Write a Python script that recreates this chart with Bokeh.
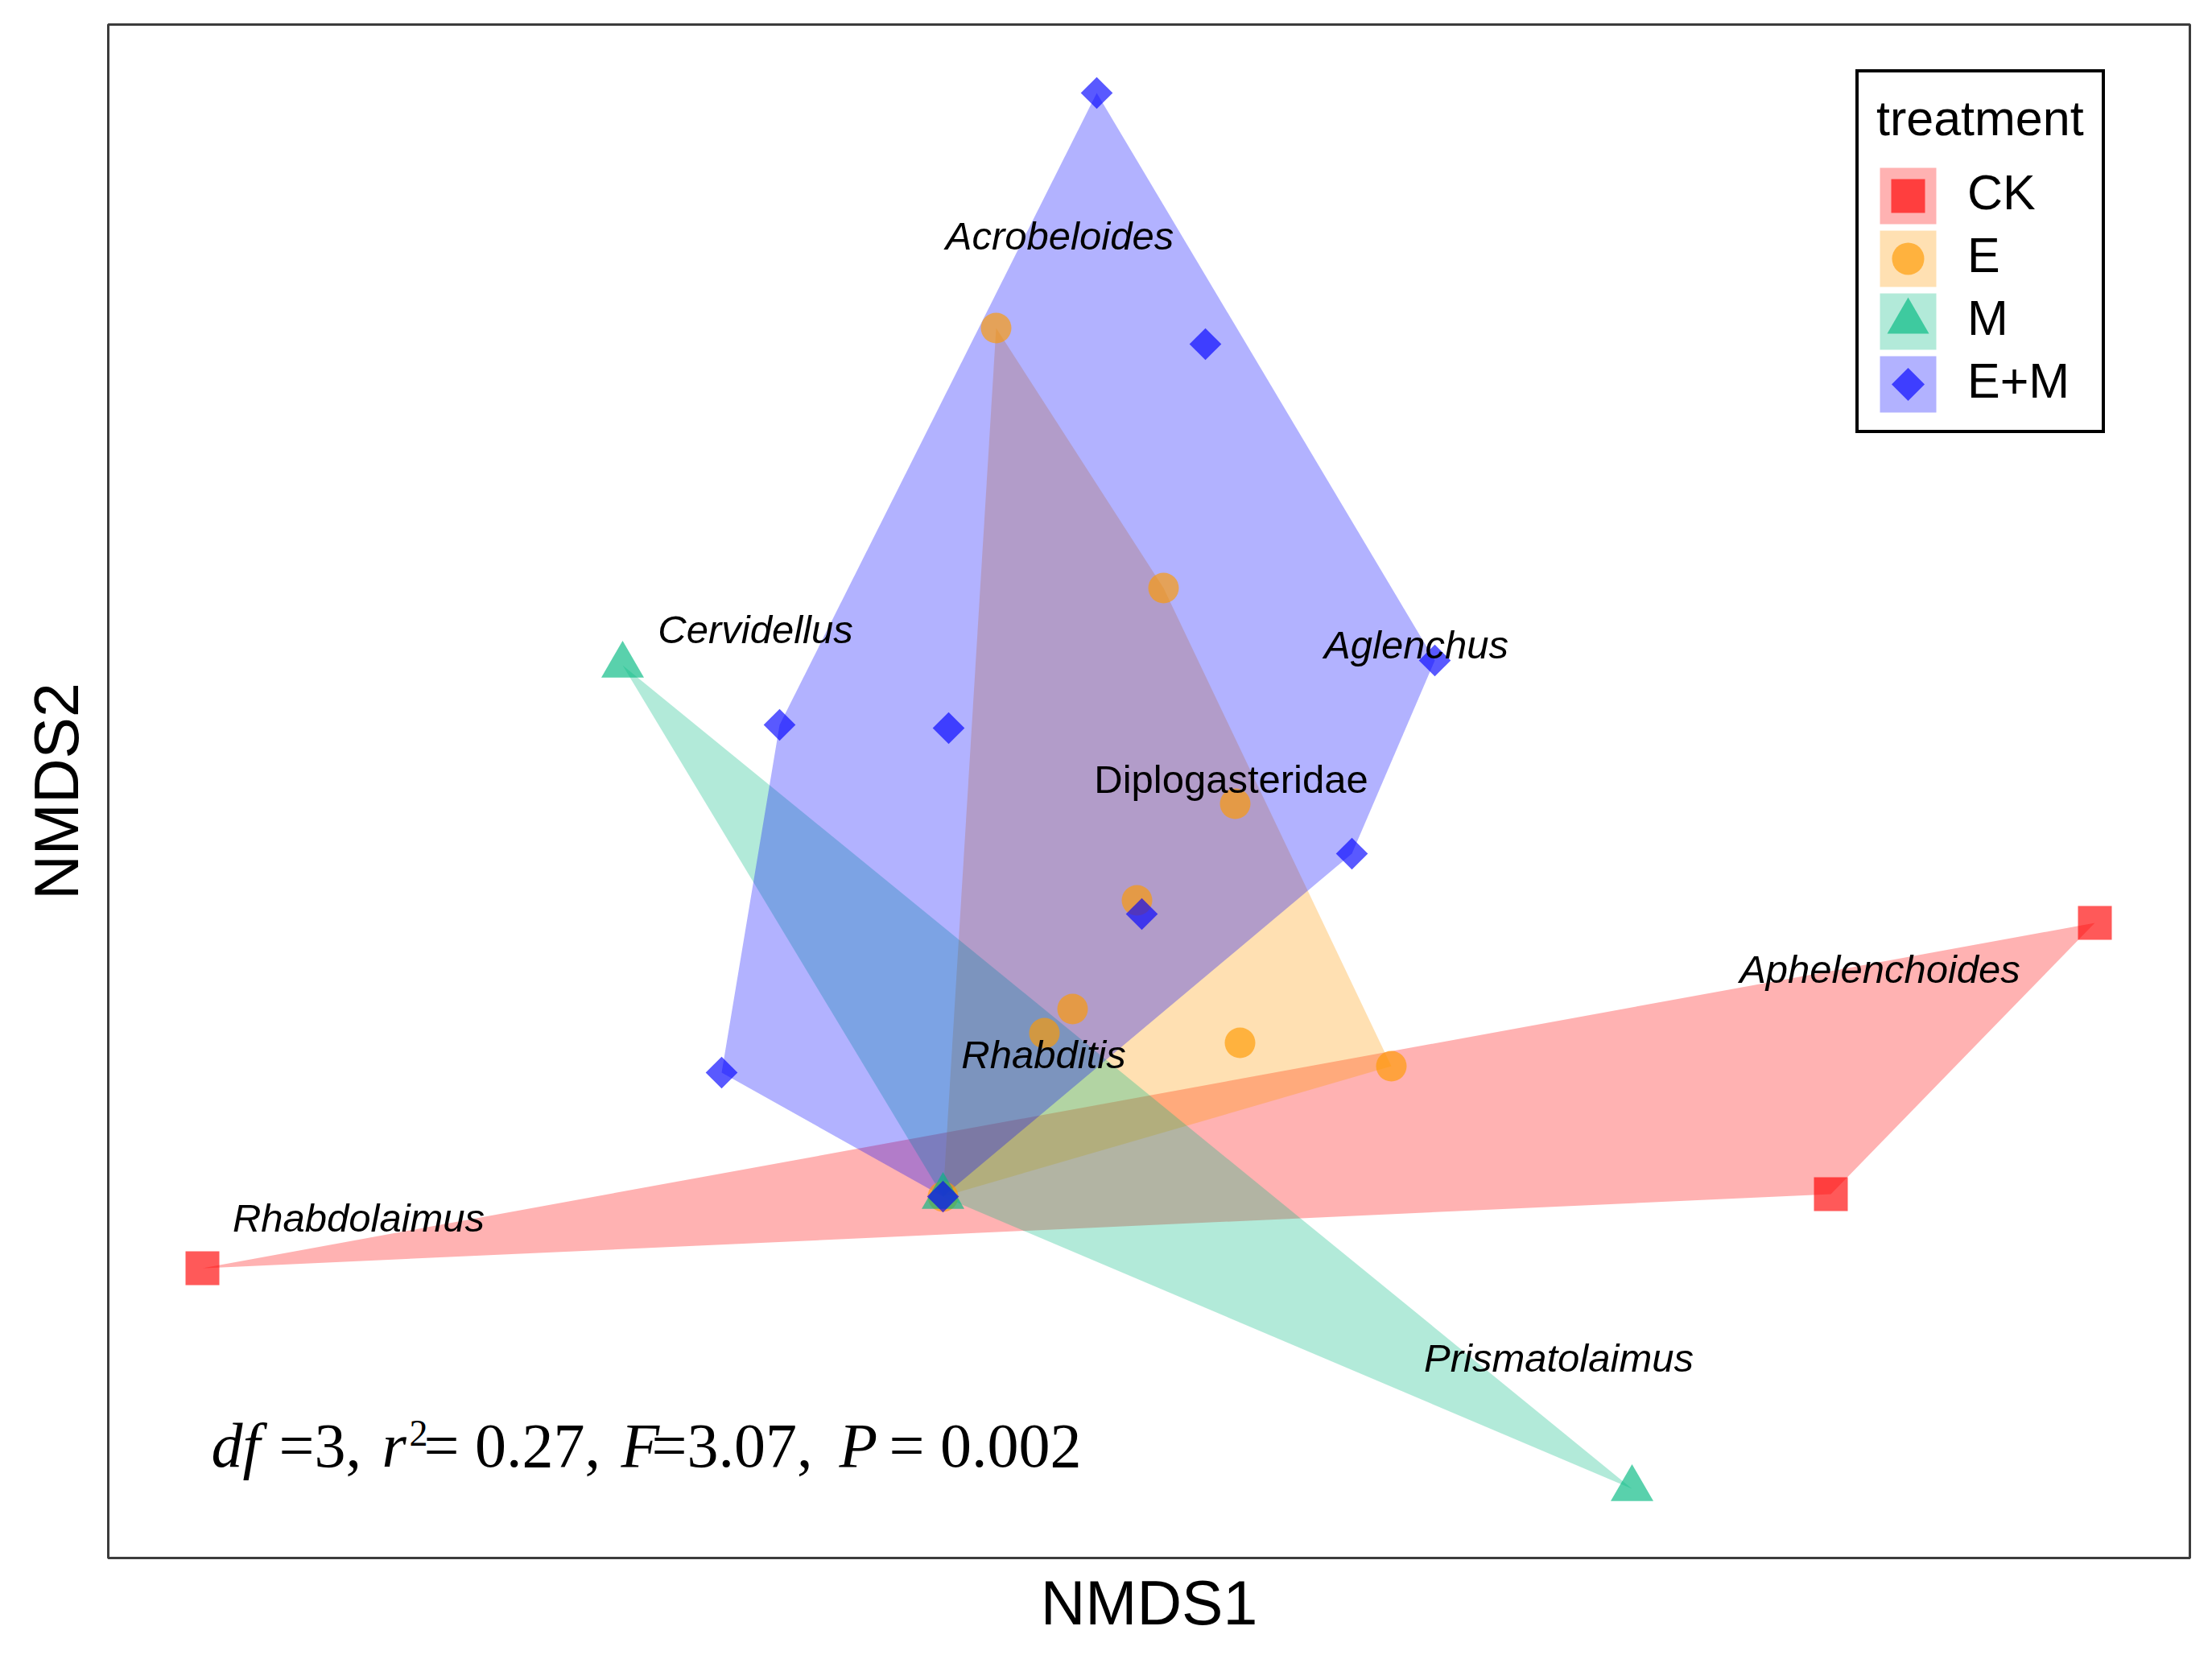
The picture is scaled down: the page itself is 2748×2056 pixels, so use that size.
import math
from bokeh.plotting import figure
from bokeh.models import Range1d, Legend, LegendItem, Label, FixedTicker, ColumnDataSource
from bokeh.embed import file_html
from bokeh.resources import INLINE
from bokeh.core.properties import value

# ---------------- data (NMDS scores) ----------------
treatments = ["CK", "E", "M", "E+M"]

ck_x = [-0.920, 1.431, 1.103]
ck_y = [-0.089, 0.340, 0.003]

e_x = [0.066, 0.274, 0.363, 0.241, 0.161, 0.126, 0.369, 0.557, 0.000]
e_y = [1.079, 0.756, 0.488, 0.368, 0.233, 0.203, 0.191, 0.162, 0.000]

m_x = [-0.398, 0.856, 0.000]
m_y = [0.660, -0.363, 0.000]

em_x = [0.191, 0.326, 0.611, -0.203, 0.007, 0.508, 0.247, -0.275, 0.000]
em_y = [1.371, 1.059, 0.666, 0.586, 0.582, 0.426, 0.351, 0.154, 0.000]

species = ["Acrobeloides", "Cervidellus", "Aglenchus", "Diplogasteridae",
           "Rhabditis", "Aphelenchoides", "Rhabdolaimus", "Prismatolaimus"]
species_x = [0.145, -0.233, 0.588, 0.358, 0.125, 1.164, -0.726, 0.765]
species_y = [1.194, 0.705, 0.686, 0.519, 0.177, 0.283, -0.026, -0.200]
species_italic = [True, True, True, False, True, True, True, True]

# ---------------- styles ----------------
colors = ["#FF0000", "#FF9900", "#00B880", "#0000FF"]
markers = ["square", "circle", "triangle", "square"]
msizes = [42, 38, 53, 28]
key_sizes = [42, 40, 52, 29]
angles = [0.0, 0.0, 0.0, math.pi / 4]

groups_x = [ck_x, e_x, m_x, em_x]
groups_y = [ck_y, e_y, m_y, em_y]


def convex_hull(xs, ys):
    pts = sorted(set(zip(xs, ys)))
    if len(pts) <= 2:
        return pts

    def cross(o, a, b):
        return (a[0] - o[0]) * (b[1] - o[1]) - (a[1] - o[1]) * (b[0] - o[0])

    lower = []
    for pt in pts:
        while len(lower) >= 2 and cross(lower[-2], lower[-1], pt) <= 0:
            lower.pop()
        lower.append(pt)
    upper = []
    for pt in reversed(pts):
        while len(upper) >= 2 and cross(upper[-2], upper[-1], pt) <= 0:
            upper.pop()
        upper.append(pt)
    return lower[:-1] + upper[:-1]


# frame: picture pixels x 134..2720, y 30..1935 ; 1000 px per data unit
X0, Y0 = 1171.0, 1486.0


def dx(px):
    return (px - X0) / 1000.0


def dy(py):
    return (Y0 - py) / 1000.0


p = figure(width=2736, height=2040, output_backend="svg", toolbar_location=None,
           x_range=Range1d(dx(134), dx(2720)), y_range=Range1d(dy(1935), dy(30)),
           min_border_left=134, min_border_right=16, min_border_top=30, min_border_bottom=105)

p.background_fill_color = "white"
p.border_fill_color = "white"
p.outline_line_color = "#3c3c3c"
p.outline_line_width = 3
p.xgrid.visible = False
p.ygrid.visible = False

for ax, lab, stand in ((p.xaxis, "NMDS1", 12), (p.yaxis, "NMDS2", 22)):
    ax.ticker = FixedTicker(ticks=[])
    ax.axis_line_color = None
    ax.major_tick_line_color = None
    ax.minor_tick_line_color = None
    ax.major_tick_out = 0
    ax.major_tick_in = 0
    ax.minor_tick_out = 0
    ax.minor_tick_in = 0
    ax.major_label_standoff = 0
    ax.major_label_text_font_size = "0px"
    ax.axis_label = lab
    ax.axis_label_text_font = "Liberation Sans"
    ax.axis_label_text_font_size = "77px"
    ax.axis_label_text_font_style = "normal"
    ax.axis_label_text_color = "black"
    ax.axis_label_standoff = stand

# convex hulls per treatment
for gx, gy, c in zip(groups_x, groups_y, colors):
    h = convex_hull(gx, gy)
    p.patch(x=[q[0] for q in h], y=[q[1] for q in h], fill_color=c,
            fill_alpha=0.3, line_color=None)

# sample points
for gx, gy, c, mk, s, a in zip(groups_x, groups_y, colors, markers, msizes, angles):
    p.scatter(x=gx, y=gy, marker=mk, size=s, angle=a, fill_color=c,
              fill_alpha=0.65, line_color=None)

# species labels
src_it = ColumnDataSource(dict(
    x=[x for x, it in zip(species_x, species_italic) if it],
    y=[y for y, it in zip(species_y, species_italic) if it],
    t=[t for t, it in zip(species, species_italic) if it]))
src_up = ColumnDataSource(dict(
    x=[x for x, it in zip(species_x, species_italic) if not it],
    y=[y for y, it in zip(species_y, species_italic) if not it],
    t=[t for t, it in zip(species, species_italic) if not it]))
for src, st in ((src_it, "italic"), (src_up, "normal")):
    p.text(x="x", y="y", text="t", source=src, text_font=value("Liberation Sans"),
           text_font_size="49px", text_font_style=st, text_color="black",
           text_align="center", text_baseline="alphabetic")

# statistics annotation (mixed italic / upright, with superscript)
pieces = [
    ("df", 262, "italic", 78, 1795),
    ("=3,", 346, "normal", 78, 1795),
    ("r", 474, "italic", 78, 1795),
    ("2", 508, "normal", 46, 1780),
    ("= 0.27,", 526, "normal", 78, 1795),
    ("F", 771, "italic", 78, 1795),
    ("=3.07,", 809, "normal", 78, 1795),
    ("P", 1042, "italic", 78, 1795),
    ("= 0.002", 1104, "normal", 78, 1795),
]
for txt, px, st, fs, by in pieces:
    p.add_layout(Label(x=dx(px), y=dy(by), text=txt, text_font="Liberation Serif",
                       text_font_size=f"{fs}px", text_font_style=st, text_color="black",
                       text_align="left", text_baseline="alphabetic"))

# legend: box, title and labels from Bokeh; ggplot-style keys drawn beneath it
LEG_LEFT, LEG_TOP, PAD, TITLE_H, STANDOFF, GW, GH = 2305, 90, 22, 74, 18, 86, 78
leg_h = PAD + TITLE_H + STANDOFF + GH * len(treatments) + PAD

key_x = [dx(LEG_LEFT + PAD + GW / 2)] * len(treatments)
key_y = [dy(LEG_TOP + PAD + TITLE_H + STANDOFF + GH * (i + 0.5)) for i in range(len(treatments))]
p.scatter(x=key_x, y=key_y, marker="square", size=70, fill_color=colors,
          fill_alpha=0.3, line_color=None)
for i in range(len(treatments)):
    p.scatter(x=[key_x[i]], y=[key_y[i]], marker=markers[i], size=key_sizes[i],
              angle=angles[i], fill_color=colors[i], fill_alpha=0.65, line_color=None)

items = [LegendItem(label=t, renderers=[]) for t in treatments]
legend = Legend(items=items, location=(LEG_LEFT - 134, 1935 - (LEG_TOP + leg_h)),
                title="treatment",
                title_text_font="Liberation Sans", title_text_font_size="61px",
                title_text_font_style="normal", title_text_color="black",
                title_standoff=STANDOFF,
                label_text_font="Liberation Sans", label_text_font_size="61px",
                label_text_color="black", label_standoff=27,
                glyph_width=GW, glyph_height=GH, spacing=0, padding=PAD, margin=0,
                border_line_color="black", border_line_width=4, border_line_alpha=1.0,
                background_fill_alpha=0.0)
p.add_layout(legend)

open("out.html", "w").write(file_html(p, INLINE))
